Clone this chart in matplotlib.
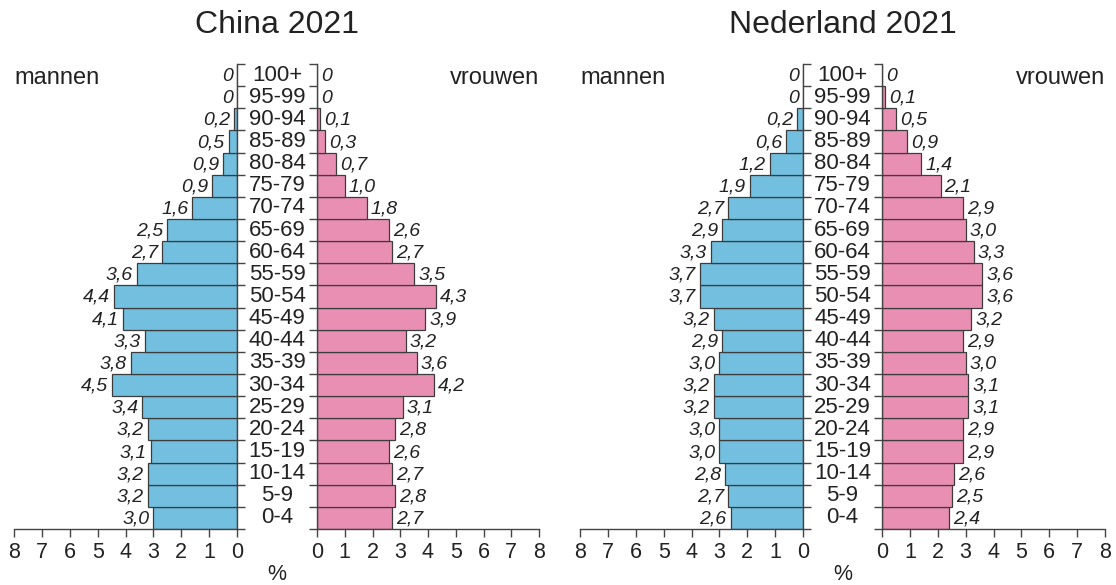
import numpy as np
import matplotlib.pyplot as plt
from matplotlib.transforms import blended_transform_factory

plt.rcParams['font.family'] = ['Liberation Sans', 'DejaVu Sans']

# age groups, bottom to top
ages = ['0-4', '5-9', '10-14', '15-19', '20-24', '25-29', '30-34', '35-39',
        '40-44', '45-49', '50-54', '55-59', '60-64', '65-69', '70-74',
        '75-79', '80-84', '85-89', '90-94', '95-99', '100+']

# bar lengths (%) as drawn
china_men = [3.0, 3.2, 3.2, 3.1, 3.2, 3.4, 4.5, 3.8, 3.3, 4.1, 4.4, 3.6,
             2.7, 2.5, 1.6, 0.9, 0.5, 0.3, 0.1, 0, 0]
china_women = [2.7, 2.8, 2.7, 2.6, 2.8, 3.1, 4.2, 3.6, 3.2, 3.9, 4.3, 3.5,
               2.7, 2.6, 1.8, 1.0, 0.7, 0.3, 0.1, 0, 0]
nl_men = [2.6, 2.7, 2.8, 3.0, 3.0, 3.2, 3.2, 3.0, 2.9, 3.2, 3.7, 3.7,
          3.3, 2.9, 2.7, 1.9, 1.2, 0.6, 0.2, 0, 0]
nl_women = [2.4, 2.5, 2.6, 2.9, 2.9, 3.1, 3.1, 3.0, 2.9, 3.2, 3.6, 3.6,
            3.3, 3.0, 2.9, 2.1, 1.4, 0.9, 0.5, 0.1, 0]

# printed values next to the bars
china_men_lbl = ['3,0', '3,2', '3,2', '3,1', '3,2', '3,4', '4,5', '3,8',
                 '3,3', '4,1', '4,4', '3,6', '2,7', '2,5', '1,6', '0,9',
                 '0,9', '0,5', '0,2', '0', '0']
china_women_lbl = ['2,7', '2,8', '2,7', '2,6', '2,8', '3,1', '4,2', '3,6',
                   '3,2', '3,9', '4,3', '3,5', '2,7', '2,6', '1,8', '1,0',
                   '0,7', '0,3', '0,1', '0', '0']
nl_men_lbl = ['2,6', '2,7', '2,8', '3,0', '3,0', '3,2', '3,2', '3,0', '2,9',
              '3,2', '3,7', '3,7', '3,3', '2,9', '2,7', '1,9', '1,2', '0,6',
              '0,2', '0', '0']
nl_women_lbl = ['2,4', '2,5', '2,6', '2,9', '2,9', '3,1', '3,1', '3,0',
                '2,9', '3,2', '3,6', '3,6', '3,3', '3,0', '2,9', '2,1', '1,4',
                '0,9', '0,5', '0,1', '0']

xticks = list(range(9))

blue = '#72bfdf'
pink = '#ea8fb4'
edge = '#3c3c3c'
txt = '#222222'

fig = plt.figure(figsize=(11.16, 5.85), dpi=100)
W, H = 1116.0, 585.0
bot = 1 - 529 / H
hgt = (529 - 64) / H


def side(x0, x1, vals, lbls, color, left):
    ax = fig.add_axes([x0 / W, bot, (x1 - x0) / W, hgt])
    y = np.arange(len(vals))
    ax.barh(y, vals, height=1.0, color=color, edgecolor=edge, linewidth=0.9)
    ax.set_xlim(8, 0) if left else ax.set_xlim(0, 8)
    ax.set_ylim(-0.5, len(vals) - 0.5)
    ax.set_xticks(xticks)
    ax.set_xticklabels([str(t) for t in xticks], fontsize=15.5, color=txt)
    ax.set_yticks(np.arange(-0.5, len(vals), 1))
    ax.set_yticklabels([])
    ax.tick_params(axis='both', direction='out', length=6, width=1,
                   color='#444444', pad=3)
    for s in ['top', 'left', 'right', 'bottom']:
        ax.spines[s].set_visible(False)
    ax.spines['bottom'].set_visible(True)
    if left:
        ax.spines['right'].set_visible(True)
        ax.yaxis.set_ticks_position('right')
    else:
        ax.spines['left'].set_visible(True)
        ax.yaxis.set_ticks_position('left')
    for s in ax.spines.values():
        s.set_color('#444444')
        s.set_linewidth(1)
    for yi, v, lb in zip(y, vals, lbls):
        ax.annotate(lb, (v, yi), xytext=(-4 if left else 4, -1),
                    textcoords='offset pixels',
                    ha='right' if left else 'left', va='center',
                    fontsize=14, style='italic', color=txt)
    ax.set_facecolor('none')
    return ax


def pyramid(xl0, xl1, xr0, xr1, men, women, mlbl, wlbl, title):
    axl = side(xl0, xl1, men, mlbl, blue, True)
    side(xr0, xr1, women, wlbl, pink, False)
    cx = (xl1 + xr0) / 2 / W
    tr = blended_transform_factory(fig.transFigure, axl.transData)
    for i, a in enumerate(ages):
        axl.text(cx, i, a, transform=tr, ha='center', va='center',
                 fontsize=16, color=txt, clip_on=False)
    fig.text(cx, 1 - 25 / H, title, ha='center', va='center',
             fontsize=23, color=txt)
    fig.text(xl0 / W, 1 - 78 / H, 'mannen', ha='left', va='center',
             fontsize=17, color=txt)
    fig.text(xr1 / W, 1 - 78 / H, 'vrouwen', ha='right', va='center',
             fontsize=17, color=txt)
    fig.text(cx, 1 - 575 / H, '%', ha='center', va='center',
             fontsize=15.5, color=txt)


pyramid(14, 237, 317, 539, china_men, china_women,
        china_men_lbl, china_women_lbl, 'China 2021')
pyramid(580, 803, 882, 1105, nl_men, nl_women,
        nl_men_lbl, nl_women_lbl, 'Nederland 2021')

fig.savefig('out.png', dpi=100)
